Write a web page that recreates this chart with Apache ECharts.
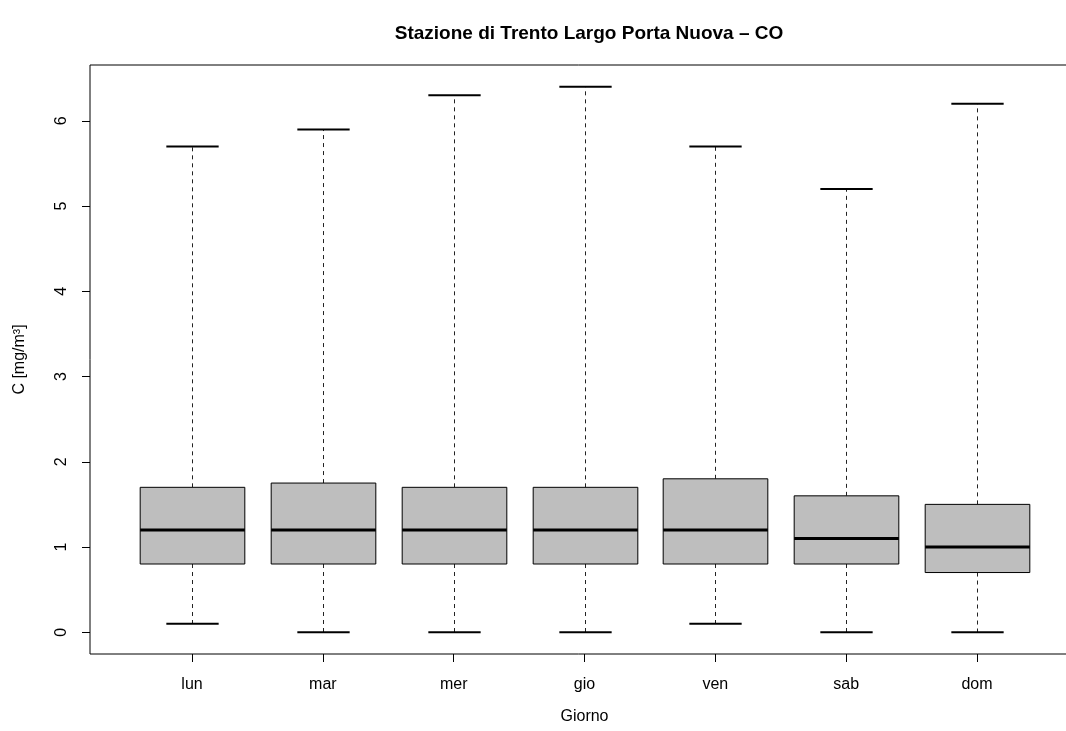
<!DOCTYPE html>
<html>
<head>
<meta charset="utf-8">
<script src="https://cdn.jsdelivr.net/npm/echarts@6/dist/echarts.min.js"></script>
<style>
html,body{margin:0;padding:0;background:#fff;}
#chart{width:1066px;height:731px;}
</style>
</head>
<body>
<div id="chart"></div>
<script>
const days = ['lun','mar','mer','gio','ven','sab','dom'];
const whiskerLow  = [0.1, 0.0, 0.0, 0.0, 0.1, 0.0, 0.0];
const q1          = [0.8, 0.8, 0.8, 0.8, 0.8, 0.8, 0.7];
const median      = [1.2, 1.2, 1.2, 1.2, 1.2, 1.1, 1.0];
const q3          = [1.7, 1.75, 1.7, 1.7, 1.8, 1.6, 1.5];
const whiskerHigh = [5.7, 5.9, 6.3, 6.4, 5.7, 5.2, 6.2];
const yTicks = [0, 1, 2, 3, 4, 5, 6];
const xTicks = [1, 2, 3, 4, 5, 6, 7];

const data = days.map((d, i) => [i + 1, whiskerLow[i], q1[i], median[i], q3[i], whiskerHigh[i]]);

const FONT = '"Liberation Sans", Arial, Helvetica, sans-serif';

function renderItem(params, api) {
  const x = api.value(0);
  const lo = api.coord([x, api.value(1)]);
  const b1 = api.coord([x, api.value(2)]);
  const md = api.coord([x, api.value(3)]);
  const b3 = api.coord([x, api.value(4)]);
  const hi = api.coord([x, api.value(5)]);
  const boxW = api.size([0.8, 0])[0];
  const capW = api.size([0.4, 0])[0];
  const cx = Math.round(lo[0]) + 0.5;
  const dash = { stroke: '#222', lineWidth: 1, lineDash: [4, 4] };
  return {
    type: 'group',
    children: [
      { type: 'line', shape: { x1: cx, y1: b3[1], x2: cx, y2: hi[1] }, style: dash },
      { type: 'line', shape: { x1: cx, y1: b1[1], x2: cx, y2: lo[1] }, style: dash },
      { type: 'line', shape: { x1: cx - capW / 2, y1: hi[1], x2: cx + capW / 2, y2: hi[1] }, style: { stroke: '#000', lineWidth: 2 } },
      { type: 'line', shape: { x1: cx - capW / 2, y1: lo[1], x2: cx + capW / 2, y2: lo[1] }, style: { stroke: '#000', lineWidth: 2 } },
      { type: 'rect', shape: { x: cx - boxW / 2, y: b3[1], width: boxW, height: b1[1] - b3[1] }, style: { fill: '#bebebe', stroke: '#000', lineWidth: 1 } },
      { type: 'line', shape: { x1: cx - boxW / 2, y1: md[1], x2: cx + boxW / 2, y2: md[1] }, style: { stroke: '#000', lineWidth: 3 } }
    ]
  };
}

const chart = echarts.init(document.getElementById('chart'), null, { renderer: 'canvas' });
chart.setOption({
  animation: false,
  backgroundColor: '#fff',
  title: {
    text: 'Stazione di Trento Largo Porta Nuova – CO',
    left: 584, top: 19, textAlign: 'center',
    textStyle: { fontFamily: FONT, fontSize: 19, fontWeight: 'bold', color: '#000' }
  },
  grid: {
    left: 90, right: -13, top: 65, bottom: 77,
    containLabel: false, outerBoundsMode: 'none',
    show: true, borderColor: '#000', borderWidth: 1, backgroundColor: 'transparent'
  },
  xAxis: {
    type: 'value', min: 0.22, max: 7.78,
    name: 'Giorno', nameLocation: 'middle', nameGap: 55,
    nameTextStyle: { fontFamily: FONT, fontSize: 16, color: '#000' },
    axisLine: { show: false, onZero: false },
    splitLine: { show: false },
    axisTick: { show: true, length: 8, customValues: xTicks, lineStyle: { color: '#000' } },
    axisLabel: {
      customValues: xTicks, margin: 23,
      formatter: v => days[Math.round(v) - 1] || '',
      fontFamily: FONT, fontSize: 16, color: '#000'
    }
  },
  yAxis: {
    type: 'value', min: -0.256, max: 6.656,
    name: 'C [mg/m³]', nameLocation: 'middle', nameGap: 62, nameRotate: 90,
    nameTextStyle: { fontFamily: FONT, fontSize: 16, color: '#000' },
    axisLine: { show: false, onZero: false },
    splitLine: { show: false },
    axisTick: { show: true, length: 8, customValues: yTicks, lineStyle: { color: '#000' } },
    axisLabel: {
      customValues: yTicks, margin: 20, rotate: 90,
      fontFamily: FONT, fontSize: 16, color: '#000'
    }
  },
  series: [{
    type: 'custom',
    renderItem: renderItem,
    data: data,
    encode: { x: 0, y: [1, 2, 3, 4, 5] },
    clip: false
  }]
});
</script>
</body>
</html>
